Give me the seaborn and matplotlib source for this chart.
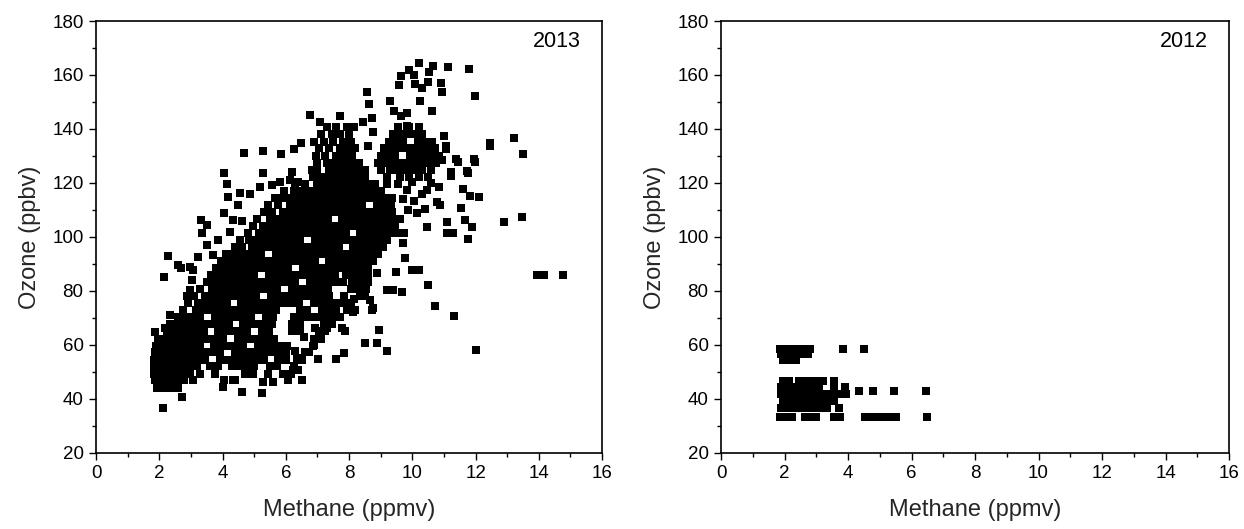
import matplotlib
matplotlib.use("Agg")
import matplotlib.pyplot as plt
from matplotlib.ticker import MultipleLocator
import pandas as pd
import seaborn as sns

# ---- 2013: densely sampled rows (ozone level, methane readings at that level) ----
dense_rows_2013 = [
    (44.2, [1.92, 2.15, 2.38, 2.6]),
    (46.9, [1.85, 2.08, 2.31, 2.54, 2.78, 3.05]),
    (49.4, [1.83, 2.06, 2.29, 2.52, 2.75, 2.98, 3.3, 3.75, 4.72, 4.95, 5.45, 5.9, 6.15]),
    (52.1, [1.82, 2.05, 2.28, 2.51, 2.74, 2.97, 3.2, 3.6, 3.85, 4.3, 4.55, 4.78, 5.01, 5.5, 5.73, 6.25]),
    (54.6, [1.84, 2.07, 2.3, 2.53, 2.76, 2.99, 3.22, 3.45, 3.91, 4.14, 4.37, 4.6, 4.83, 5.06, 5.3, 5.76, 6.0, 6.5]),
    (57.3, [1.86, 2.09, 2.32, 2.55, 2.78, 3.01, 3.24, 3.47, 3.7, 3.93, 4.39, 4.62, 4.85, 5.08, 5.31, 5.54, 5.77, 6.0, 6.6]),
    (59.8, [1.9, 2.13, 2.36, 2.59, 2.82, 3.05, 3.28, 3.74, 3.97, 4.2, 4.43, 4.66, 5.12, 5.35, 5.58, 5.81, 6.05, 6.85]),
    (62.4, [1.95, 2.18, 2.41, 2.64, 2.87, 3.1, 3.33, 3.56, 3.79, 4.02, 4.48, 4.71, 4.94, 5.17, 5.4, 5.63, 6.9, 7.1]),
    (65.0, [2.25, 2.48, 2.71, 2.94, 3.17, 3.4, 3.86, 4.09, 4.32, 4.55, 4.78, 5.24, 5.47, 6.2, 6.45, 7.05, 7.25]),
    (67.7, [2.35, 2.58, 2.81, 3.04, 3.27, 3.5, 3.73, 3.96, 4.19, 4.65, 4.88, 5.11, 5.34, 5.57, 6.2, 6.45, 7.2, 7.45]),
    (70.3, [2.6, 2.83, 3.06, 3.29, 3.75, 3.98, 4.21, 4.44, 4.67, 4.9, 5.36, 5.59, 6.25, 6.5, 6.75, 7.0, 7.25, 7.5, 7.7]),
    (72.8, [2.75, 3.16, 3.39, 3.62, 3.85, 4.08, 4.31, 4.54, 4.77, 5.0, 5.23, 5.46, 5.69, 6.45, 6.68, 7.14, 7.37, 7.6, 7.95]),
    (75.5, [2.9, 3.21, 3.44, 3.67, 3.9, 4.13, 4.59, 4.82, 5.05, 5.28, 5.51, 5.74, 5.97, 6.2, 6.43, 6.89, 7.12, 7.35, 7.58, 7.81, 8.05]),
    (78.1, [3.1, 3.46, 3.69, 3.92, 4.15, 4.38, 4.61, 4.84, 5.07, 5.53, 5.76, 5.99, 6.22, 6.45, 6.68, 6.91, 7.14, 7.37, 7.85, 8.35, 8.5]),
    (80.6, [3.3, 3.66, 3.89, 4.12, 4.35, 4.58, 4.81, 5.04, 5.27, 5.5, 5.73, 6.19, 6.42, 6.65, 6.88, 7.11, 7.34, 8.05, 8.3, 8.55]),
    (83.3, [3.5, 3.76, 3.99, 4.22, 4.45, 4.68, 4.91, 5.14, 5.37, 5.6, 5.83, 6.06, 6.29, 6.75, 6.98, 7.21, 7.44, 7.8, 8.1, 8.35, 8.6]),
    (85.8, [3.65, 3.86, 4.09, 4.32, 4.55, 4.78, 5.01, 5.47, 5.7, 5.93, 6.16, 6.39, 6.62, 6.85, 7.08, 7.31, 7.54, 7.9, 8.13, 8.36, 8.59]),
    (88.5, [3.8, 4.01, 4.24, 4.47, 4.7, 4.93, 5.16, 5.39, 5.62, 5.85, 6.08, 6.54, 6.77, 7.0, 7.23, 7.46, 7.69, 7.92, 8.15, 8.38, 8.61]),
    (91.1, [3.95, 4.16, 4.39, 4.62, 4.85, 5.08, 5.31, 5.54, 5.77, 6.0, 6.23, 6.46, 6.69, 6.92, 7.38, 7.61, 7.84, 8.07, 8.3, 8.53, 8.76]),
    (93.6, [4.1, 4.31, 4.54, 4.77, 5.0, 5.23, 5.69, 5.92, 6.15, 6.38, 6.61, 6.84, 7.07, 7.3, 7.53, 7.76, 7.99, 8.22, 8.45, 8.68, 8.91]),
    (96.3, [4.4, 4.6, 4.92, 5.15, 5.38, 5.61, 5.84, 6.07, 6.3, 6.53, 6.76, 6.99, 7.22, 7.45, 7.68, 8.14, 8.37, 8.6, 8.83, 9.06]),
    (98.9, [4.55, 4.84, 5.07, 5.3, 5.53, 5.76, 5.99, 6.22, 6.45, 6.91, 7.14, 7.37, 7.6, 7.83, 8.06, 8.29, 8.52, 8.75, 8.98, 9.21]),
    (101.4, [4.8, 5.14, 5.37, 5.6, 5.83, 6.06, 6.29, 6.52, 6.75, 6.98, 7.21, 7.44, 7.67, 7.9, 8.36, 8.59, 8.82, 9.05, 9.28, 9.51]),
    (104.1, [4.95, 5.29, 5.52, 5.75, 5.98, 6.21, 6.44, 6.67, 6.9, 7.13, 7.36, 7.59, 7.82, 8.05, 8.28, 8.51, 8.74, 8.97, 9.2, 9.45]),
    (106.7, [5.1, 5.49, 5.72, 5.95, 6.18, 6.41, 6.64, 6.87, 7.1, 7.33, 7.79, 8.02, 8.25, 8.48, 8.71, 8.94, 9.17, 9.4]),
    (109.2, [5.3, 5.55, 5.92, 6.15, 6.38, 6.61, 6.84, 7.07, 7.3, 7.53, 7.76, 7.99, 8.22, 8.45, 8.68, 8.91, 9.14, 9.37]),
    (111.9, [5.45, 5.75, 6.12, 6.35, 6.58, 6.81, 7.04, 7.27, 7.5, 7.73, 7.96, 8.19, 8.42, 8.88, 9.11, 9.34]),
    (114.5, [5.65, 5.91, 6.14, 6.37, 6.6, 6.83, 7.06, 7.29, 7.52, 7.75, 7.98, 8.21, 8.44, 8.67, 8.9, 9.13, 9.36]),
    (117.0, [5.95, 6.26, 6.49, 6.72, 6.95, 7.18, 7.41, 7.64, 7.87, 8.1, 8.33, 8.56, 8.79, 9.02]),
    (119.7, [6.3, 6.6, 6.99, 7.22, 7.45, 7.68, 7.91, 8.14, 8.37, 8.6, 8.83]),
    (122.3, [6.85, 7.11, 7.34, 7.57, 7.8, 8.03, 8.26, 8.49, 9.2, 9.6, 9.9, 10.2, 10.5]),
    (124.9, [7.0, 7.36, 7.59, 7.82, 8.05, 8.28, 8.51, 9.0, 9.3, 9.55, 9.8, 10.05, 10.3, 10.6]),
    (127.5, [7.0, 7.3, 7.55, 7.8, 8.05, 8.3, 8.9, 9.13, 9.36, 9.59, 9.82, 10.05, 10.28, 10.51, 10.74]),
    (130.1, [6.95, 7.25, 7.6, 7.85, 8.1, 9.0, 9.23, 9.46, 9.92, 10.15, 10.38, 10.61, 10.84]),
    (132.8, [7.05, 7.35, 7.7, 7.95, 8.2, 9.1, 9.33, 9.56, 9.79, 10.02, 10.25, 10.48, 10.71]),
    (135.3, [6.9, 7.2, 7.5, 7.8, 8.05, 9.25, 9.48, 9.71, 10.17, 10.4, 10.63]),
    (138.0, [7.1, 7.45, 7.7, 8.0, 9.4, 9.63, 9.86, 10.09, 10.32]),
    (140.6, [7.3, 7.6, 7.95, 9.55, 9.9, 10.2]),
]

# ---- 2013: scattered individual readings (methane, ozone) ----
scattered_2013 = [
    (2.13, 36.8), (2.71, 40.9), (1.87, 64.9), (2.18, 66.2), (2.34, 71.1), (2.15, 85.3),
    (2.29, 93.0), (2.6, 89.6), (2.7, 88.4), (2.97, 89.0), (3.08, 87.8), (3.22, 92.7),
    (2.87, 78.0), (2.97, 80.4), (3.03, 84.0), (3.32, 106.3), (3.5, 104.4), (3.34, 101.4),
    (3.5, 97.0), (3.87, 98.9), (4.03, 108.8), (4.34, 106.3), (4.15, 119.6), (4.18, 114.8),
    (4.56, 116.3), (4.5, 111.9), (4.87, 116.0), (5.19, 118.5), (5.56, 119.3), (5.82, 120.5),
    (6.14, 121.0), (6.4, 120.5), (4.03, 123.6), (5.27, 123.8), (6.21, 124.2), (6.84, 124.8),
    (4.69, 131.0), (5.27, 132.0), (5.84, 130.7), (6.27, 132.6), (6.48, 134.9), (6.77, 145.2),
    (7.07, 142.7), (7.72, 144.8), (8.15, 140.8), (4.24, 102.0), (4.62, 106.0), (3.7, 93.5),
    (4.03, 47.0), (4.34, 47.0), (4.02, 44.5), (4.4, 47.0), (4.61, 42.7), (5.24, 42.3),
    (5.29, 46.4), (5.61, 46.4), (6.08, 47.0), (6.5, 47.0), (6.4, 50.7), (6.24, 50.7),
    (6.35, 55.0), (6.3, 57.9), (6.72, 57.5), (6.88, 60.0), (6.56, 63.1), (6.93, 66.3),
    (7.03, 54.7), (7.6, 54.7), (7.85, 57.1), (7.3, 66.2), (7.77, 66.2), (7.88, 65.0),
    (7.67, 70.5), (8.14, 72.3), (8.72, 73.0), (8.16, 76.9), (8.2, 73.0), (8.77, 73.7),
    (8.67, 76.7), (8.51, 60.9), (8.88, 60.9), (8.94, 65.6), (9.2, 57.9), (7.62, 83.4),
    (8.88, 86.5), (9.2, 80.4), (9.4, 80.5), (9.49, 87.2), (9.67, 79.7), (9.72, 97.7),
    (9.78, 92.1), (9.75, 101.5), (9.4, 103.8), (9.99, 87.8), (10.2, 87.8), (10.5, 82.2),
    (10.73, 74.4), (11.31, 70.7), (12.02, 58.1), (10.15, 108.8), (10.46, 103.8), (9.83, 117.4),
    (10.3, 116.0), (10.46, 117.4), (10.78, 113.0), (10.89, 111.9), (11.1, 105.7), (11.1, 101.4),
    (11.28, 101.4), (11.54, 110.6), (11.68, 106.3), (11.9, 103.8), (11.76, 99.1), (11.6, 117.7),
    (11.81, 115.2), (12.1, 114.7), (11.23, 122.7), (11.76, 123.6), (11.43, 127.7), (11.99, 127.7),
    (11.08, 132.6), (12.47, 133.8), (12.89, 105.7), (13.47, 107.4), (13.2, 136.6), (13.5, 130.6),
    (13.95, 85.9), (14.16, 85.9), (14.77, 85.9),
    (9.6, 106.5), (9.85, 110.0), (10.05, 113.5), (9.7, 114.0), (10.4, 110.5), (10.6, 120.0),
    (9.55, 119.5), (9.2, 119.8), (10.0, 120.5), (10.85, 118.5), (10.95, 128.5), (11.0, 137.5),
    (8.56, 153.6), (8.64, 149.3), (9.3, 150.4), (10.25, 150.4), (9.43, 146.8), (9.84, 146.0),
    (9.64, 144.8), (10.62, 146.6), (8.43, 142.7), (8.73, 143.9), (9.84, 141.2), (8.75, 139.0),
    (10.2, 138.1), (11.06, 133.7), (12.45, 134.9), (11.38, 128.8), (11.96, 128.8), (11.22, 123.9),
    (11.73, 124.6), (8.6, 133.7),
    (10.2, 164.3), (10.66, 163.5), (11.14, 163.1), (11.8, 162.3), (9.9, 161.7), (9.64, 159.8),
    (10.54, 161.0), (10.06, 160.0), (9.59, 156.2), (10.1, 156.8), (10.3, 155.0), (10.5, 157.5),
    (10.9, 157.2), (10.94, 153.8), (11.98, 152.2),
]

# ---- 2012: readings grouped by ozone level ----
rows_2012 = [
    (33.4, [1.85, 2.05, 2.25, 2.65, 2.85, 3.0, 3.55, 3.75, 4.55, 4.75, 4.95, 5.15, 5.35, 5.5, 6.5]),
    (36.8, [1.9, 2.1, 2.3, 2.5, 2.7, 2.9, 3.1, 3.35, 3.7]),
    (39.3, [1.95, 2.15, 2.35, 2.55, 2.75, 2.95, 3.15, 3.35, 3.55]),
    (41.8, [1.9, 2.1, 2.3, 2.5, 2.7, 2.9, 3.1, 3.3, 3.5, 3.7, 3.95]),
    (42.9, [4.35, 4.8, 5.45, 6.45]),
    (44.3, [1.9, 2.1, 2.3, 2.5, 2.7, 2.9, 3.1, 3.55, 3.9]),
    (46.6, [1.95, 2.15, 2.45, 2.7, 2.95, 3.2, 3.55]),
    (54.5, [1.95, 2.15, 2.35]),
    (56.6, [1.9, 2.1, 2.3, 2.5, 2.75]),
    (58.6, [1.85, 2.05, 2.25, 2.45, 2.62, 2.8, 3.85, 4.5]),
]

x_label = "Methane (ppmv)"
y_label = "Ozone (ppbv)"


def rows_to_frame(rows, extra=()):
    records = [(m, o) for o, ms in rows for m in ms] + list(extra)
    return pd.DataFrame(records, columns=["methane", "ozone"])


df_2013 = rows_to_frame(dense_rows_2013, scattered_2013)
df_2012 = rows_to_frame(rows_2012)

sns.set_style("ticks")
plt.rcParams["font.family"] = ["Liberation Sans", "DejaVu Sans"]

fig = plt.figure(figsize=(12.44, 5.29), dpi=100)
ax_left = fig.add_axes([0.0772, 0.1437, 0.4068, 0.8166])
ax_right = fig.add_axes([0.5796, 0.1437, 0.4084, 0.8166])

for ax, df, year in [(ax_left, df_2013, "2013"), (ax_right, df_2012, "2012")]:
    sns.scatterplot(data=df, x="methane", y="ozone", ax=ax, marker="s", s=26,
                    color="black", linewidth=0, legend=False)
    ax.set_xlim(0, 16)
    ax.set_ylim(20, 180)
    ax.xaxis.set_major_locator(MultipleLocator(2))
    ax.xaxis.set_minor_locator(MultipleLocator(1))
    ax.yaxis.set_major_locator(MultipleLocator(20))
    ax.yaxis.set_minor_locator(MultipleLocator(10))
    ax.tick_params(which="both", direction="out", top=False, right=False,
                   color="black", width=1.0, labelsize=13.5, labelcolor="black")
    ax.tick_params(which="major", length=5, pad=4)
    ax.tick_params(which="minor", length=3)
    for side in ["left", "right", "top", "bottom"]:
        ax.spines[side].set_visible(True)
        ax.spines[side].set_color("black")
        ax.spines[side].set_linewidth(1.2)
    ax.set_xlabel(x_label, fontsize=17, labelpad=12)
    ax.set_ylabel(y_label, fontsize=17, labelpad=8)
    ax.text(0.958, 0.977, year, transform=ax.transAxes, ha="right", va="top",
            fontsize=15.5, color="black")

fig.savefig("out.png", dpi=100, facecolor="white")
